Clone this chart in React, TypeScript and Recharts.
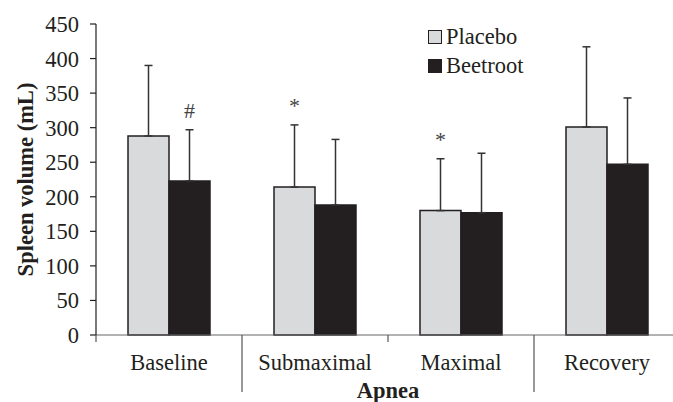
import { BarChart, Bar, XAxis, YAxis, ErrorBar, LabelList } from "recharts";

const categories = ["Baseline", "Submaximal", "Maximal", "Recovery"];
const placebo = [288, 214, 180, 301];
const placeboSd = [102, 90, 75, 116];
const beetroot = [223, 188, 177, 247];
const beetrootSd = [74, 95, 86, 96];
const placeboMarks = ["", "*", "*", ""];
const beetrootMarks = ["#", "", "", ""];
const yTicks = [0, 50, 100, 150, 200, 250, 300, 350, 400, 450];

const data = categories.map((name, i) => ({
  name,
  placebo: placebo[i],
  placeboErr: [0, placeboSd[i]],
  placeboMark: placeboMarks[i],
  beetroot: beetroot[i],
  beetrootErr: [0, beetrootSd[i]],
  beetrootMark: beetrootMarks[i],
}));

const FONT = "'Liberation Serif', 'Times New Roman', serif";
const INK = "#231f20";
const PLACEBO_FILL = "#d9dadc";

const legendItems = [
  { name: "Placebo", fill: PLACEBO_FILL },
  { name: "Beetroot", fill: INK },
];

const CategoryTick = ({ x, y, payload, index }: any) => {
  const half = payload?.offset || 72;
  const left = x - half;
  const long = index % 2 === 1;
  return (
    <g>
      <line x1={left} y1={y} x2={left} y2={long ? y + 57 : y + 7} stroke="#555" strokeWidth={1.2} />
      <text x={x} y={y + 35} textAnchor="middle" fontFamily={FONT} fontSize={22.5} fill={INK}>
        {payload.value}
      </text>
    </g>
  );
};

const YTitle = ({ viewBox }: any) => {
  const cy = viewBox.y + viewBox.height / 2;
  return (
    <text
      x={25}
      y={cy}
      transform={`rotate(-90 25 ${cy})`}
      textAnchor="middle"
      dominantBaseline="central"
      fontFamily={FONT}
      fontWeight="bold"
      fontSize={22.5}
      fill={INK}
    >
      Spleen volume (mL)
    </text>
  );
};

const markRenderer = (values: number[], sds: number[]) => (props: any) => {
  const { x, y, width, height, value, index } = props;
  if (!value) return null;
  const perUnit = height / values[index];
  const top = y - sds[index] * perUnit;
  return (
    <text x={x + width / 2} y={top - 12} textAnchor="middle" fontFamily={FONT} fontSize={22} fill="#444">
      {value}
    </text>
  );
};

export default function App() {
  return (
    <div style={{ position: "absolute", left: 0, top: 0, width: 673, height: 402, overflow: "hidden", background: "#fff" }}>
      <BarChart
        width={680}
        height={402}
        data={data}
        margin={{ top: 24, right: 0, bottom: 0, left: 0 }}
        barGap={0}
        barSize={41}
      >
        <XAxis
          dataKey="name"
          height={67}
          tickLine={false}
          tickSize={0}
          tickMargin={0}
          axisLine={{ stroke: "#666", strokeWidth: 1.2 }}
          tick={<CategoryTick />}
          interval={0}
          label={{ value: "Apnea", position: "insideBottom", offset: 4, fontFamily: FONT, fontWeight: "bold", fontSize: 22.5, fill: INK }}
        />
        <YAxis
          width={96}
          domain={[0, 450]}
          ticks={yTicks}
          interval={0}
          tickSize={6}
          tickMargin={11}
          axisLine={{ stroke: INK, strokeWidth: 1.2 }}
          tickLine={{ stroke: INK, strokeWidth: 1.2 }}
          tick={{ fontFamily: FONT, fontSize: 22.5, fill: INK }}
          label={{ content: YTitle }}
        />
        <Bar dataKey="placebo" name="Placebo" fill={PLACEBO_FILL} stroke={INK} strokeWidth={1.5} isAnimationActive={false}>
          <ErrorBar dataKey="placeboErr" width={4} stroke="#333" strokeWidth={1.5} direction="y" />
          <LabelList dataKey="placeboMark" content={markRenderer(placebo, placeboSd)} />
        </Bar>
        <Bar dataKey="beetroot" name="Beetroot" fill={INK} stroke={INK} strokeWidth={1.5} isAnimationActive={false}>
          <ErrorBar dataKey="beetrootErr" width={4} stroke="#333" strokeWidth={1.5} direction="y" />
          <LabelList dataKey="beetrootMark" content={markRenderer(beetroot, beetrootSd)} />
        </Bar>
      </BarChart>
      <div style={{ position: "absolute", left: 428, top: 22, fontFamily: FONT, fontSize: 22.5, color: INK, lineHeight: "29px" }}>
        {legendItems.map((item) => (
          <div key={item.name} style={{ display: "flex", alignItems: "center" }}>
            <span
              style={{
                display: "inline-block",
                width: 12,
                height: 12,
                background: item.fill,
                border: `1.5px solid ${INK}`,
                marginRight: 4,
              }}
            />
            {item.name}
          </div>
        ))}
      </div>
    </div>
  );
}
